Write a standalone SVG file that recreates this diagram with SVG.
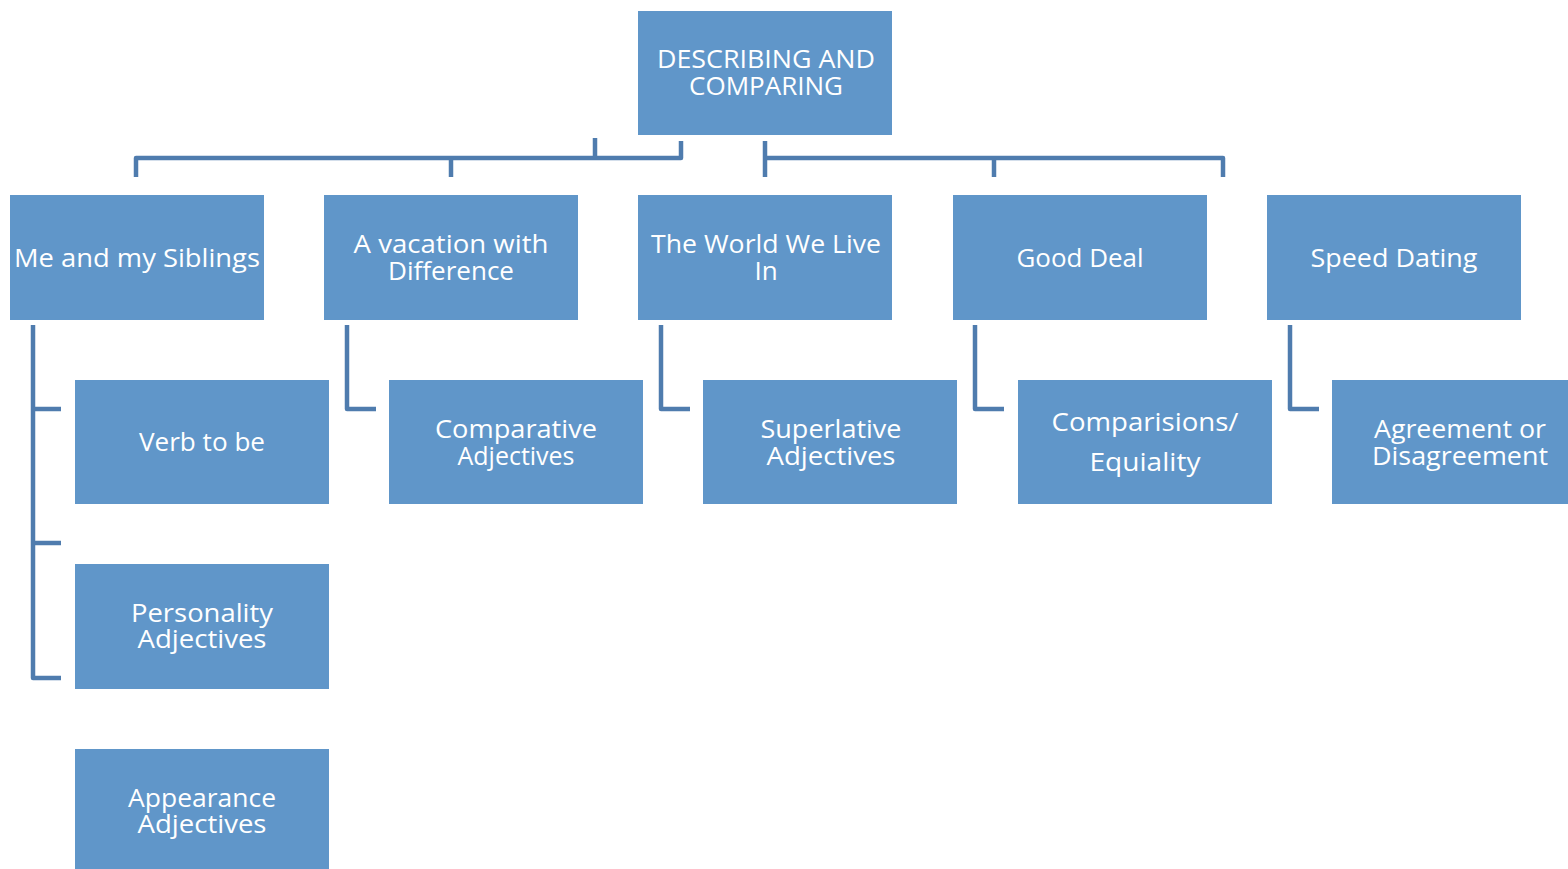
<svg xmlns="http://www.w3.org/2000/svg" width="1568" height="869" viewBox="0 0 1568 869">
<style>
.box{fill:#6096c9}
.t{font-family:"Open Sans","Noto Sans",sans-serif;font-size:26px;fill:#ffffff;text-anchor:middle;dominant-baseline:central}
.c{fill:none;stroke:#4f7cae;stroke-width:4.5;stroke-linejoin:round;stroke-linecap:butt}
</style>
<rect width="1568" height="869" fill="#ffffff"/>
<g id="connectors">
<path class="c" d="M136,177 V158 H681 V141"/>
<path class="c" d="M451,158 V177"/>
<path class="c" d="M595,158 V138"/>
<path class="c" d="M765,141 V177"/>
<path class="c" d="M765,158 H1223 V177"/>
<path class="c" d="M994,158 V177"/>
<path class="c" d="M33,325 V678 H61"/>
<path class="c" d="M33,409 H61"/>
<path class="c" d="M33,543 H61"/>
<path class="c" d="M347,325 V409 H376"/>
<path class="c" d="M661,325 V409 H690"/>
<path class="c" d="M975,325 V409 H1004"/>
<path class="c" d="M1290,325 V409 H1319"/>
</g>
<g id="root">
<rect class="box" x="638" y="11" width="254" height="124"/>
<text class="t" x="766" y="58" textLength="218" lengthAdjust="spacingAndGlyphs">DESCRIBING AND</text>
<text class="t" x="766" y="85" textLength="154" lengthAdjust="spacingAndGlyphs">COMPARING</text>
</g>
<g id="siblings">
<rect class="box" x="10" y="195" width="254" height="125"/>
<text class="t" x="137" y="257" textLength="246" lengthAdjust="spacingAndGlyphs">Me and my Siblings</text>
</g>
<g id="vacation">
<rect class="box" x="324" y="195" width="254" height="125"/>
<text class="t" x="451" y="243" textLength="195" lengthAdjust="spacingAndGlyphs">A vacation with</text>
<text class="t" x="451" y="270" textLength="126" lengthAdjust="spacingAndGlyphs">Difference</text>
</g>
<g id="world">
<rect class="box" x="638" y="195" width="254" height="125"/>
<text class="t" x="766" y="243" textLength="230" lengthAdjust="spacingAndGlyphs">The World We Live</text>
<text class="t" x="766" y="270">In</text>
</g>
<g id="gooddeal">
<rect class="box" x="953" y="195" width="254" height="125"/>
<text class="t" x="1080" y="257" textLength="127" lengthAdjust="spacingAndGlyphs">Good Deal</text>
</g>
<g id="speeddating">
<rect class="box" x="1267" y="195" width="254" height="125"/>
<text class="t" x="1394" y="257" textLength="167" lengthAdjust="spacingAndGlyphs">Speed Dating</text>
</g>
<g id="verbtobe">
<rect class="box" x="75" y="380" width="254" height="124"/>
<text class="t" x="202" y="441" textLength="126" lengthAdjust="spacingAndGlyphs">Verb to be</text>
</g>
<g id="personality">
<rect class="box" x="75" y="564" width="254" height="125"/>
<text class="t" x="202" y="612" textLength="142" lengthAdjust="spacingAndGlyphs">Personality</text>
<text class="t" x="202" y="638" textLength="129" lengthAdjust="spacingAndGlyphs">Adjectives</text>
</g>
<g id="appearance">
<rect class="box" x="75" y="749" width="254" height="124"/>
<text class="t" x="202" y="797" textLength="148" lengthAdjust="spacingAndGlyphs">Appearance</text>
<text class="t" x="202" y="823" textLength="129" lengthAdjust="spacingAndGlyphs">Adjectives</text>
</g>
<g id="comparative">
<rect class="box" x="389" y="380" width="254" height="124"/>
<text class="t" x="516" y="428" textLength="162" lengthAdjust="spacingAndGlyphs">Comparative</text>
<text class="t" x="516" y="455" textLength="117" lengthAdjust="spacingAndGlyphs">Adjectives</text>
</g>
<g id="superlative">
<rect class="box" x="703" y="380" width="254" height="124"/>
<text class="t" x="831" y="428" textLength="141" lengthAdjust="spacingAndGlyphs">Superlative</text>
<text class="t" x="831" y="455" textLength="129" lengthAdjust="spacingAndGlyphs">Adjectives</text>
</g>
<g id="comparisions">
<rect class="box" x="1018" y="380" width="254" height="124"/>
<text class="t" x="1145" y="421" textLength="187" lengthAdjust="spacingAndGlyphs">Comparisions/</text>
<text class="t" x="1145" y="461" textLength="111" lengthAdjust="spacingAndGlyphs">Equiality</text>
</g>
<g id="agreement">
<rect class="box" x="1332" y="380" width="254" height="124"/>
<text class="t" x="1460" y="428" textLength="172" lengthAdjust="spacingAndGlyphs">Agreement or</text>
<text class="t" x="1460" y="455" textLength="176" lengthAdjust="spacingAndGlyphs">Disagreement</text>
</g>
</svg>
